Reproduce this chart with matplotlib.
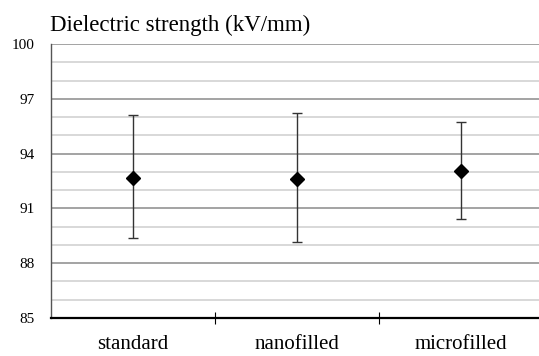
import matplotlib.pyplot as plt
from matplotlib.ticker import FixedLocator, MultipleLocator

# datos de rigidez dielectrica
categorias = ["standard", "nanofilled", "microfilled"]
media = [92.68, 92.61, 93.07]
maximo = [96.10, 96.22, 95.71]
minimo = [89.38, 89.15, 90.42]
marcas_y = [85, 88, 91, 94, 97, 100]

err_inf = [m - lo for m, lo in zip(media, minimo)]
err_sup = [hi - m for m, hi in zip(media, maximo)]

plt.rcParams["font.family"] = ["Liberation Serif", "DejaVu Serif"]

fig = plt.figure(figsize=(5.39, 3.56), dpi=100)
ax = fig.add_axes([51 / 539, 1 - 318 / 356, 492 / 539, 274 / 356])

x = list(range(len(categorias)))
ax.errorbar(x, media, yerr=[err_inf, err_sup], fmt="D", color="black",
            markersize=7.5, ecolor="#333333", elinewidth=1.0,
            capsize=3.5, capthick=1.0, zorder=3)

# ejes y rejilla
ax.set_ylim(85, 100)
ax.set_xlim(-0.5, 2.5)
ax.yaxis.set_major_locator(FixedLocator(marcas_y))
ax.yaxis.set_minor_locator(MultipleLocator(1))
ax.grid(True, which="minor", axis="y", color="#d6d6d6", linewidth=1.3)
ax.grid(True, which="major", axis="y", color="#9c9c9c", linewidth=1.3)
ax.set_axisbelow(True)
ax.tick_params(axis="y", which="both", length=0, pad=11.5, labelsize=11)

# etiquetas de categorias y marcas entre ellas
ax.set_xticks([0.5, 1.5])
ax.set_xticklabels([])
ax.set_xticks(x, minor=True)
ax.set_xticklabels(categorias, minor=True, fontsize=15)
ax.tick_params(axis="x", which="minor", length=0, pad=12.5)
ax.tick_params(axis="x", which="major", direction="inout", length=9, width=0.8)

for lado in ["top", "right"]:
    ax.spines[lado].set_visible(False)
ax.spines["left"].set_color("#555555")
ax.spines["left"].set_linewidth(1.0)
ax.spines["bottom"].set_color("black")
ax.spines["bottom"].set_linewidth(1.6)

fig.text(50 / 539, 1 - 25 / 356, "Dielectric strength (kV/mm)", fontsize=16.5,
         va="center", ha="left")

plt.savefig("out.png", dpi=100)
